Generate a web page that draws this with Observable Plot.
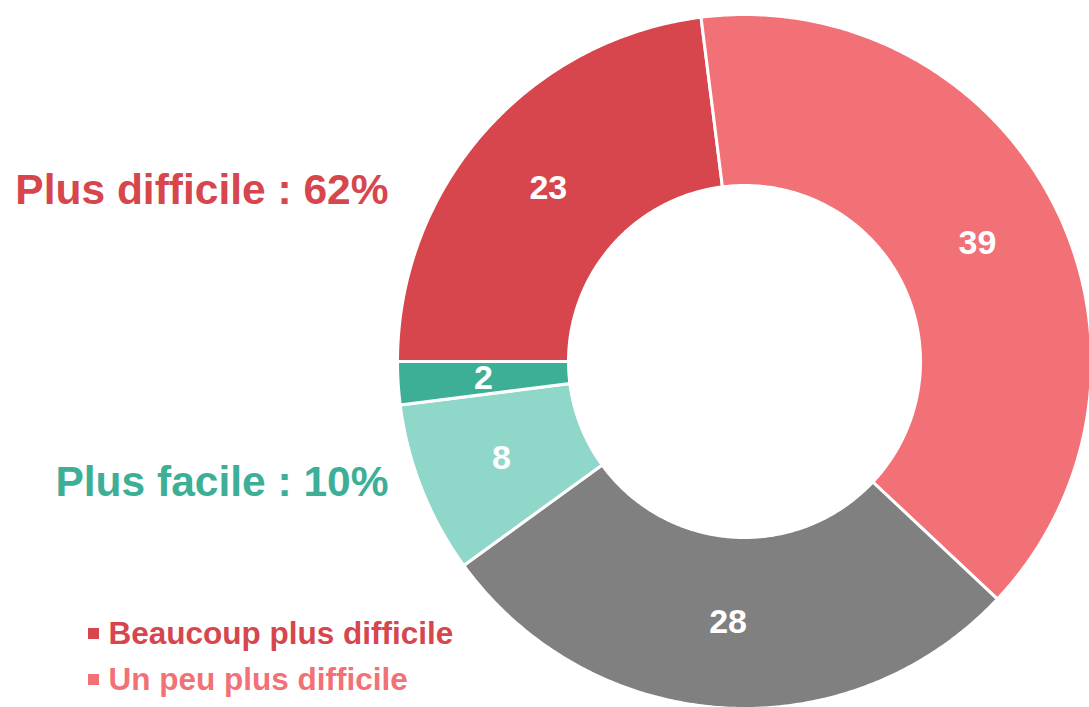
<!DOCTYPE html>
<html>
<head>
<meta charset="utf-8">
<script src="https://cdn.jsdelivr.net/npm/d3@7"></script>
<script src="https://cdn.jsdelivr.net/npm/@observablehq/plot@0.6"></script>
<style>
  html, body { margin: 0; padding: 0; background: #fff; }
  #chart svg { display: block; font-family: "Liberation Sans", Arial, sans-serif; }
</style>
</head>
<body>
<div id="chart"></div>
<script>
// ---- data ----
const categories = ["Beaucoup plus difficile", "Un peu plus difficile", "Ni plus ni moins", "Un peu plus facile", "Beaucoup plus facile"];
const values = [23, 39, 28, 8, 2];
const colors = ["#d7464d", "#f27176", "#808080", "#8fd7c8", "#3daf96"];
const groupLabels = ["Plus difficile : 62%", "Plus facile : 10%"];
const groupColors = ["#d7464d", "#3daf96"];
const legendItems = ["Beaucoup plus difficile", "Un peu plus difficile"];

// ---- layout ----
const W = 1089, H = 707;
const cx = 744, cy = 361, R = 347, r0 = 176;
const startDeg = 270;

const total = d3.sum(values);
const rad = d => d * Math.PI / 180;
const pt = (deg, r) => [cx + r * Math.sin(rad(deg)), cy - r * Math.cos(rad(deg))];

const polys = [];
const labels = [];
let acc = startDeg;
values.forEach((v, i) => {
  const a0 = acc, a1 = acc + v / total * 360;
  acc = a1;
  const n = Math.max(2, Math.ceil((a1 - a0) / 0.5));
  for (let k = 0; k <= n; k++) {
    const [x, y] = pt(a0 + (a1 - a0) * k / n, R);
    polys.push({cat: categories[i], x, y});
  }
  for (let k = n; k >= 0; k--) {
    const [x, y] = pt(a0 + (a1 - a0) * k / n, r0);
    polys.push({cat: categories[i], x, y});
  }
  const [lx, ly] = pt((a0 + a1) / 2, (R + r0) / 2);
  labels.push({cat: categories[i], v, x: lx, y: ly});
});

const groupData = [
  {text: groupLabels[0], color: groupColors[0], x: 388, y: 203},
  {text: groupLabels[1], color: groupColors[1], x: 388, y: 495}
];
const legendData = legendItems.map((t, i) => ({text: t, color: colors[i], x: 93, y: 633 + i * 46}));

const chart = Plot.plot({
  width: W,
  height: H,
  margin: 0,
  x: {type: "linear", domain: [0, W], range: [0, W], axis: null},
  y: {type: "linear", domain: [0, H], range: [0, H], axis: null},
  color: {domain: categories, range: colors},
  style: {fontFamily: "'Liberation Sans', Arial, sans-serif", background: "#fff"},
  marks: [
    Plot.line(polys, {x: "x", y: "y", z: "cat", fill: "cat", stroke: "#fff", strokeWidth: 3, curve: "linear-closed"}),
    Plot.text(labels, {x: "x", y: "y", text: d => String(d.v), fill: "#fff", fontSize: 34, fontWeight: "bold"}),
    Plot.text(groupData, {x: "x", y: "y", text: "text", fill: d => d.color, fontSize: 42.5, fontWeight: "bold", textAnchor: "end", lineAnchor: "bottom"}),
    Plot.dot(legendData, {x: "x", y: "y", symbol: "square", r: 6.2, fill: d => d.color, stroke: null}),
    Plot.text(legendData, {x: d => d.x + 15, y: "y", text: "text", fill: d => d.color, fontSize: 31.5, fontWeight: "bold", textAnchor: "start"})
  ]
});
document.getElementById("chart").appendChild(chart);
</script>
</body>
</html>
